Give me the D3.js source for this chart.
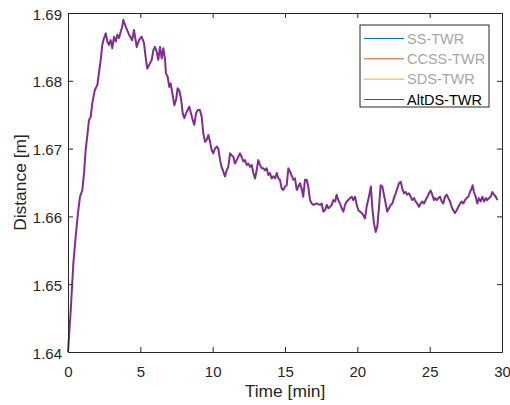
<!DOCTYPE html>
<html>
<head>
<meta charset="utf-8">
<script src="https://cdn.jsdelivr.net/npm/d3@7"></script>
<style>
  body { margin: 0; background: #fff; }
  text { font-family: "Liberation Sans", Arial, sans-serif; }
</style>
</head>
<body>
<div id="chart"></div>
<script>
// AltDS-TWR trace: time [min] and distance [m]
const timeMin = [
  0.00, 0.19, 0.37, 0.53, 0.69, 0.83, 0.99, 1.11, 1.22, 1.33, 1.45, 1.57, 1.68, 1.85, 2.03, 2.14, 2.26, 2.37,
  2.49, 2.61, 2.72, 2.83, 2.95, 3.06, 3.18, 3.30, 3.41, 3.53, 3.64, 3.75, 3.82, 3.99, 4.22, 4.44, 4.56, 4.75,
  4.91, 5.09, 5.25, 5.39, 5.48, 5.67, 5.79, 5.90, 6.01, 6.13, 6.24, 6.36, 6.48, 6.59, 6.71, 6.77, 6.89, 7.00,
  7.10, 7.21, 7.35, 7.47, 7.58, 7.69, 7.81, 7.93, 8.04, 8.16, 8.27, 8.38, 8.50, 8.62, 8.73, 8.85, 8.97, 9.12,
  9.24, 9.35, 9.47, 9.59, 9.70, 9.82, 9.93, 10.04, 10.16, 10.28, 10.39, 10.51, 10.62, 10.74, 10.85, 10.97,
  11.08, 11.20, 11.31, 11.43, 11.54, 11.66, 11.77, 11.89, 12.00, 12.12, 12.23, 12.35, 12.46, 12.58, 12.70,
  12.81, 12.93, 13.04, 13.15, 13.27, 13.39, 13.50, 13.62, 13.73, 13.85, 13.96, 14.08, 14.19, 14.31, 14.43,
  14.54, 14.65, 14.77, 14.88, 15.00, 15.12, 15.23, 15.35, 15.46, 15.58, 15.69, 15.81, 15.92, 16.04, 16.15,
  16.26, 16.38, 16.50, 16.61, 16.73, 16.85, 16.96, 17.19, 17.42, 17.54, 17.65, 17.77, 17.89, 18.00, 18.11,
  18.23, 18.34, 18.46, 18.57, 18.68, 18.80, 18.92, 19.03, 19.15, 19.26, 19.37, 19.49, 19.61, 19.72, 19.84,
  19.96, 20.07, 20.18, 20.30, 20.41, 20.53, 20.64, 20.80, 20.94, 21.03, 21.15, 21.27, 21.38, 21.50, 21.61,
  21.73, 21.84, 21.96, 22.07, 22.19, 22.31, 22.42, 22.53, 22.65, 22.76, 22.88, 23.00, 23.11, 23.23, 23.34,
  23.45, 23.57, 23.69, 23.80, 23.92, 24.03, 24.14, 24.26, 24.38, 24.49, 24.61, 24.72, 24.84, 24.95, 25.07,
  25.18, 25.30, 25.37, 25.49, 25.60, 25.71, 25.83, 25.94, 26.06, 26.18, 26.29, 26.41, 26.52, 26.63, 26.75,
  26.87, 26.98, 27.10, 27.21, 27.33, 27.44, 27.56, 27.67, 27.79, 27.90, 27.97, 28.06, 28.18, 28.29, 28.41,
  28.53, 28.64, 28.76, 28.88, 28.98, 29.10, 29.22, 29.33, 29.45, 29.57, 29.68
];
const distM = [
  1.6400, 1.6462, 1.6531, 1.6570, 1.6605, 1.6629, 1.6639, 1.6664, 1.6698, 1.6718, 1.6742, 1.6747, 1.6767, 1.6786, 1.6794, 1.6812, 1.6831, 1.6853,
  1.6863, 1.6870, 1.6858, 1.6853, 1.6860, 1.6848, 1.6865, 1.6858, 1.6868, 1.6863, 1.6872, 1.6880, 1.6890, 1.6880, 1.6868, 1.6860, 1.6875, 1.6850,
  1.6860, 1.6865, 1.6856, 1.6831, 1.6818, 1.6826, 1.6831, 1.6845, 1.6850, 1.6843, 1.6831, 1.6850, 1.6833, 1.6848, 1.6831, 1.6811, 1.6806, 1.6791,
  1.6796, 1.6782, 1.6764, 1.6772, 1.6789, 1.6786, 1.6774, 1.6752, 1.6745, 1.6752, 1.6757, 1.6762, 1.6752, 1.6742, 1.6735, 1.6752, 1.6757, 1.6757,
  1.6747, 1.6723, 1.6710, 1.6713, 1.6720, 1.6710, 1.6698, 1.6693, 1.6700, 1.6703, 1.6700, 1.6683, 1.6673, 1.6666, 1.6659, 1.6668,
  1.6673, 1.6693, 1.6690, 1.6688, 1.6678, 1.6683, 1.6688, 1.6693, 1.6688, 1.6681, 1.6683, 1.6676, 1.6678, 1.6673, 1.6676,
  1.6664, 1.6656, 1.6668, 1.6683, 1.6676, 1.6671, 1.6671, 1.6668, 1.6671, 1.6661, 1.6664, 1.6656, 1.6659, 1.6656, 1.6664,
  1.6656, 1.6654, 1.6641, 1.6639, 1.6644, 1.6646, 1.6671, 1.6666, 1.6660, 1.6654, 1.6656, 1.6639, 1.6644, 1.6649, 1.6641,
  1.6629, 1.6654, 1.6654, 1.6644, 1.6624, 1.6619, 1.6617, 1.6619, 1.6617, 1.6619, 1.6607, 1.6609, 1.6617, 1.6612, 1.6614,
  1.6617, 1.6624, 1.6622, 1.6632, 1.6624, 1.6619, 1.6612, 1.6607, 1.6617, 1.6622, 1.6624, 1.6627, 1.6629, 1.6624, 1.6629,
  1.6617, 1.6609, 1.6607, 1.6605, 1.6602, 1.6597, 1.6614, 1.6629, 1.6644, 1.6614, 1.6590, 1.6577, 1.6585, 1.6614, 1.6646,
  1.6644, 1.6632, 1.6619, 1.6607, 1.6612, 1.6617, 1.6619, 1.6627, 1.6634, 1.6641, 1.6649, 1.6651, 1.6641, 1.6634, 1.6636,
  1.6632, 1.6634, 1.6629, 1.6624, 1.6627, 1.6622, 1.6619, 1.6614, 1.6619, 1.6622, 1.6619, 1.6624, 1.6629, 1.6634, 1.6638,
  1.6632, 1.6624, 1.6627, 1.6624, 1.6627, 1.6629, 1.6622, 1.6619, 1.6629, 1.6632, 1.6627, 1.6622, 1.6614, 1.6609, 1.6605,
  1.6609, 1.6614, 1.6619, 1.6622, 1.6619, 1.6624, 1.6627, 1.6629, 1.6636, 1.6641, 1.6646, 1.6636, 1.6629, 1.6619, 1.6627,
  1.6622, 1.6629, 1.6622, 1.6627, 1.6624, 1.6627, 1.6629, 1.6636, 1.6632, 1.6629, 1.6624
];

const seriesNames = ["SS-TWR", "CCSS-TWR", "SDS-TWR", "AltDS-TWR"];
const seriesColors = ["#0072BD", "#D95319", "#EDB120", "#7E2F8E"];
const seriesVisible = [false, false, false, true];

const xTicks = [0, 5, 10, 15, 20, 25, 30];
const yTicks = [1.64, 1.65, 1.66, 1.67, 1.68, 1.69];

const width = 510, height = 405;
const margin = { top: 13, right: 8, bottom: 53, left: 68 };
const axisColor = "#262626";

const svg = d3.select("#chart").append("svg")
  .attr("width", width)
  .attr("height", height);

const x = d3.scaleLinear().domain([0, 30]).range([margin.left, width - margin.right]);
const y = d3.scaleLinear().domain([1.64, 1.69]).range([height - margin.bottom, margin.top]);

// the trace
const line = d3.line()
  .x((d, i) => x(timeMin[i]))
  .y(d => y(d));

svg.append("path")
  .datum(distM)
  .attr("fill", "none")
  .attr("stroke", seriesColors[3])
  .attr("stroke-width", 2)
  .attr("stroke-linejoin", "round")
  .attr("d", line);

// axes (box with inward ticks)
const tickLen = 5;
const gx = svg.append("g")
  .attr("transform", `translate(0,${y(1.64)})`)
  .call(d3.axisBottom(x).tickValues(xTicks).tickSizeInner(-tickLen).tickSizeOuter(0).tickPadding(14));
const gxTop = svg.append("g")
  .attr("transform", `translate(0,${y(1.69)})`)
  .call(d3.axisTop(x).tickValues(xTicks).tickSizeInner(-tickLen).tickSizeOuter(0).tickFormat(""));
const gy = svg.append("g")
  .attr("transform", `translate(${x(0)},0)`)
  .call(d3.axisLeft(y).tickValues(yTicks).tickSizeInner(-tickLen).tickSizeOuter(0).tickPadding(6).tickFormat(d3.format(".2f")));
const gyRight = svg.append("g")
  .attr("transform", `translate(${x(30)},0)`)
  .call(d3.axisRight(y).tickValues(yTicks).tickSizeInner(-tickLen).tickSizeOuter(0).tickFormat(""));

[gx, gxTop, gy, gyRight].forEach(g => {
  g.select(".domain").attr("stroke", axisColor).attr("stroke-width", 1);
  g.selectAll(".tick line").attr("stroke", axisColor);
  g.selectAll(".tick text")
    .attr("fill", axisColor)
    .style("font-size", "15px")
    .style("font-family", "'Liberation Sans', Arial, sans-serif");
});
gy.selectAll(".tick text").attr("dy", "0.4em");

// axis labels
svg.append("text")
  .attr("x", (x(0) + x(30)) / 2)
  .attr("y", 397)
  .attr("text-anchor", "middle")
  .attr("fill", axisColor)
  .style("font-size", "17.4px")
  .text("Time [min]");

svg.append("text")
  .attr("transform", `translate(26,${(y(1.64) + y(1.69)) / 2}) rotate(-90)`)
  .attr("text-anchor", "middle")
  .attr("fill", axisColor)
  .style("font-size", "17.4px")
  .text("Distance [m]");

// legend
const legend = svg.append("g").attr("transform", "translate(360,25)");
legend.append("rect")
  .attr("width", 129)
  .attr("height", 82)
  .attr("fill", "#fff")
  .attr("stroke", axisColor)
  .attr("stroke-width", 1);

const rowY = d3.scalePoint().domain(seriesNames).range([13.5, 74.5]);
const items = legend.selectAll("g.item")
  .data(seriesNames)
  .enter().append("g")
  .attr("class", "item")
  .attr("transform", d => `translate(0,${rowY(d)})`);

items.append("line")
  .attr("x1", 4).attr("x2", 44)
  .attr("stroke", (d, i) => seriesColors[i])
  .attr("stroke-width", 1);

items.append("text")
  .attr("x", 47)
  .attr("dy", "0.36em")
  .attr("fill", (d, i) => seriesVisible[i] ? "#000" : "#a6a6a6")
  .style("font-size", "14.5px")
  .text(d => d);
</script>
</body>
</html>
